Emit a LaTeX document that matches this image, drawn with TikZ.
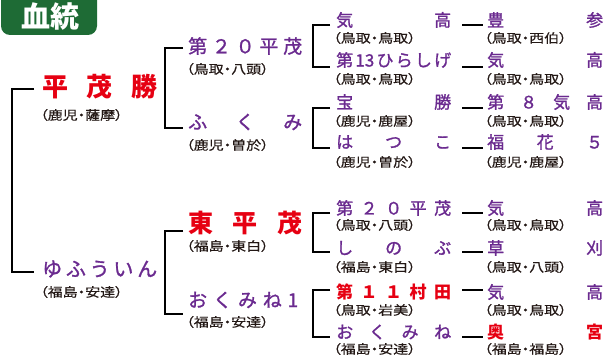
\documentclass[tikz,border=0pt]{standalone}
\usepackage{fontspec}
\newfontfamily\jp{Noto Sans CJK JP}
\newfontfamily\jpm[FakeBold=1.3]{Noto Sans CJK JP}
\newfontfamily\jpp[RawFeature=+palt,FakeStretch=1.2,FakeBold=0.4]{Noto Sans CJK JP}
\definecolor{pur}{HTML}{6A2A8F}
\definecolor{hred}{HTML}{E60012}
\definecolor{grn}{HTML}{1E6B35}
\definecolor{ink}{HTML}{231815}
\newcommand\spreadbox[2]{\makebox[#1][l]{#2}}
\tikzset{
  nm/.style={anchor=west, inner sep=0pt, text=pur, font=\jpm\fontsize{17}{17}\selectfont},
  nmtwo/.style={nm, font=\jpm\fontsize{19}{19}\selectfont},
  nmone/.style={nm, font=\jpm\fontsize{20}{20}\selectfont},
  hot/.style={text=hred, font=\jp\bfseries\fontsize{17}{17}\selectfont},
  sb/.style={anchor=west, inner sep=0pt, text=ink, font=\jpp\fontsize{12.5}{12.5}\selectfont},
  ln/.style={line width=2.5pt, draw=black, line join=miter},
}
\begin{document}
\begin{tikzpicture}[x=1pt,y=-1pt]
\useasboundingbox (0,0) rectangle (607,358);
% title
\fill[grn, rounded corners=9pt] (1,-12) rectangle (97,35);
\node[inner sep=0pt, text=white, font=\jp\bfseries\fontsize{29}{29}\selectfont] (title) at (50,17) {血統};

% generation 1
\node[nm, text=hred, font=\jp\bfseries\fontsize{26}{26}\selectfont] (heimo) at (42,87) {\spreadbox{115pt}{平\hfill 茂\hfill 勝}};
\node[sb] (heimo-s) at (40,115) {（鹿児・薩摩）};
\node[nmone] (yufu) at (42,269) {\spreadbox{115pt}{ゆ\hfill ふ\hfill う\hfill い\hfill ん}};
\node[sb] (yufu-s) at (40,292) {（福島・安達）};
\coordinate (t-heimo) at (34,89);
\coordinate (t-yufu) at (34,272);
\draw[ln] (t-heimo) -- ++(-22,0) |- (t-yufu);

% generation 2
\node[nmtwo] (d20) at (188,46) {\spreadbox{114pt}{第\hfill ２\hfill ０\hfill 平\hfill 茂}};
\node[sb] (d20-s) at (186,69) {（鳥取・八頭）};
\node[nmtwo] (fukumi) at (188,122) {\spreadbox{114pt}{ふ\hfill く\hfill み}};
\node[sb] (fukumi-s) at (186,145) {（鹿児・曽於）};
\node[nm, text=hred, font=\jp\bfseries\fontsize{25}{25}\selectfont] (higashi) at (188,223) {\spreadbox{114pt}{東\hfill 平\hfill 茂}};
\node[sb] (higashi-s) at (186,246) {（福島・東白）};
\node[nmtwo] (okumine1) at (188,300) {\spreadbox{110pt}{お\hfill く\hfill み\hfill ね\hfill 1}};
\node[sb] (okumine1-s) at (186,322) {（福島・安達）};
\coordinate (t-d20) at (183,48);
\coordinate (t-fukumi) at (183,128);
\coordinate (t-higashi) at (183,231);
\coordinate (t-okumine1) at (183,314);
\draw[ln] (t-d20) -- ++(-18,0) |- (t-fukumi);
\draw[ln] (t-higashi) -- ++(-18,0) |- (t-okumine1);

% generation 3
\node[nm] (r1) at (336,20) {\spreadbox{115pt}{気\hfill 高}};
\node[sb] (r1-s) at (333,38) {（鳥取・鳥取）};
\node[nm] (r2) at (336,60) {\spreadbox{115pt}{第\hfill 13\hfill ひ\hfill ら\hfill し\hfill げ}};
\node[sb] (r2-s) at (333,79) {（鳥取・鳥取）};
\node[nm] (r3) at (336,102) {\spreadbox{115pt}{宝\hfill 勝}};
\node[sb] (r3-s) at (333,121) {（鹿児・鹿屋）};
\node[nm] (r4) at (336,142) {\spreadbox{115pt}{は\hfill つ\hfill こ}};
\node[sb] (r4-s) at (333,162) {（鹿児・曽於）};
\node[nm] (r5) at (336,208) {\spreadbox{115pt}{第\hfill ２\hfill ０\hfill 平\hfill 茂}};
\node[sb] (r5-s) at (333,225) {（鳥取・八頭）};
\node[nm] (r6) at (336,248) {\spreadbox{115pt}{し\hfill の\hfill ぶ}};
\node[sb] (r6-s) at (333,267) {（福島・東白）};
\node[nm, hot] (r7) at (336,292) {\spreadbox{115pt}{第\hfill １\hfill １\hfill 村\hfill 田}};
\node[sb] (r7-s) at (333,310) {（鳥取・岩美）};
\node[nm] (r8) at (336,332) {\spreadbox{115pt}{お\hfill く\hfill み\hfill ね}};
\node[sb] (r8-s) at (333,349) {（福島・安達）};

\coordinate (k1) at (330,25);
\coordinate (k2) at (330,67);
\coordinate (k3) at (330,108);
\coordinate (k4) at (330,148);
\coordinate (k5) at (330,213);
\coordinate (k6) at (330,252);
\coordinate (k7) at (330,290);
\coordinate (k8) at (330,337);
\draw[ln] (k1) -- ++(-17,0) |- (k2);
\draw[ln] (k3) -- ++(-17,0) |- (k4);
\draw[ln] (k5) -- ++(-17,0) |- (k6);
\draw[ln] (k7) -- ++(-17,0) |- (k8);

% generation 4
\node[nm] (s1) at (487,20) {\spreadbox{116pt}{豊\hfill 参}};
\node[sb] (s1-s) at (484,38) {（鳥取・西伯）};
\node[nm] (s2) at (487,60) {\spreadbox{116pt}{気\hfill 高}};
\node[sb] (s2-s) at (484,79) {（鳥取・鳥取）};
\node[nm] (s3) at (487,102) {\spreadbox{116pt}{第\hfill ８\hfill 気\hfill 高}};
\node[sb] (s3-s) at (484,121) {（鳥取・鳥取）};
\node[nm] (s4) at (487,142) {\spreadbox{116pt}{福\hfill 花\hfill ５}};
\node[sb] (s4-s) at (484,162) {（鹿児・鹿屋）};
\node[nm] (s5) at (487,208) {\spreadbox{116pt}{気\hfill 高}};
\node[sb] (s5-s) at (484,225) {（鳥取・鳥取）};
\node[nm] (s6) at (487,248) {\spreadbox{116pt}{草\hfill 刈}};
\node[sb] (s6-s) at (484,267) {（鳥取・八頭）};
\node[nm] (s7) at (487,292) {\spreadbox{116pt}{気\hfill 高}};
\node[sb] (s7-s) at (484,310) {（鳥取・鳥取）};
\node[nm, hot] (s8) at (487,332) {\spreadbox{116pt}{奥\hfill 宮}};
\node[sb] (s8-s) at (484,349) {（福島・福島）};

\foreach \i/\y in {1/25,2/67,3/108,4/148,5/213,6/252,7/290,8/337}{
  \coordinate (m\i a) at (462,\y);
  \coordinate (m\i b) at (483,\y);
  \draw[ln] (m\i a) -- (m\i b);
}
\end{tikzpicture}
\end{document}
